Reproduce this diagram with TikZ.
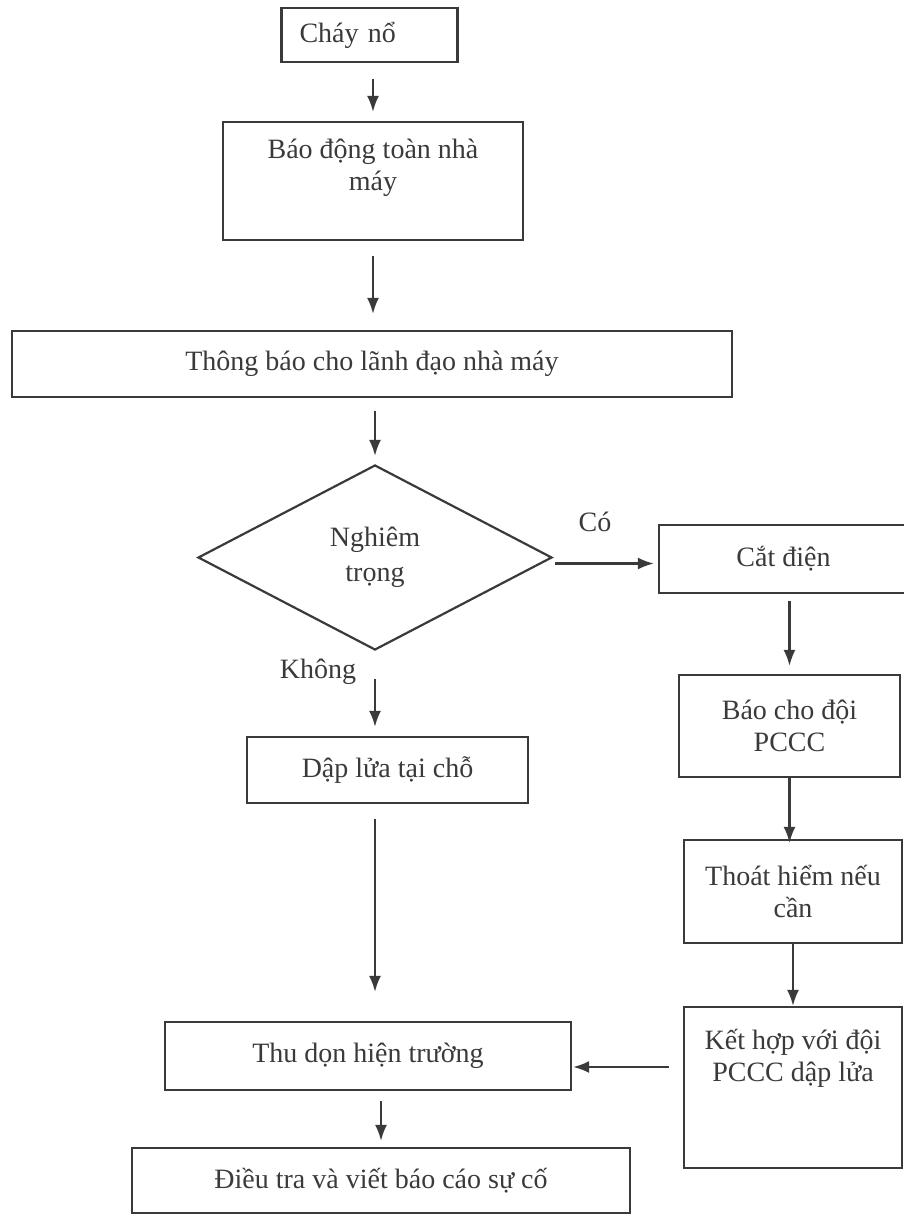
\documentclass[tikz,border=0pt]{standalone}
\usepackage{fontspec}
\setmainfont{Liberation Serif}
\usepackage{tikz}
\usetikzlibrary{arrows.meta,positioning,shapes.geometric}
\definecolor{ink}{HTML}{3A3A3A}

\begin{document}
\begin{tikzpicture}[x=1pt,y=-1pt,
  box/.style={rectangle, draw=ink, line width=2.2pt, inner sep=0pt, align=center, text=ink, font=\fontsize{28}{32}\selectfont},
  decision/.style={diamond, draw=ink, line width=2.2pt, inner sep=0pt, aspect=1.9, align=center, text=ink, font=\fontsize{28}{35}\selectfont},
  comment/.style={rectangle, text centered, text=ink, font=\fontsize{28}{32}\selectfont},
  flow/.style={draw=ink, line width=2.2pt, -{Latex[length=16pt,width=12pt]}}]
\useasboundingbox (0,0) rectangle (904,1216);

\node [box, minimum height=54pt, text width=140pt, inner xsep=18pt, align=left] (chay) at (369.5,35) {Cháy nổ};
\node [box, minimum width=300pt, minimum height=118pt] (baodong) at (373,181) {Báo động toàn nhà\\máy\\\mbox{}};
\node [box, minimum width=720pt, minimum height=66pt] (thongbao) at (372,364) {Thông báo cho lãnh đạo nhà máy};
\node [decision, minimum width=354pt, minimum height=185pt] (nghiem) at (375,557.5) {Nghiêm\\trọng};
\node [box, minimum width=249pt, minimum height=68pt] (catdien) at (783.5,559) {Cắt điện};
\node [box, minimum width=221pt, minimum height=102pt] (baocho) at (789.5,726) {Báo cho đội\\PCCC};
\node [box, minimum width=218pt, minimum height=103pt] (thoat) at (793,891.5) {Thoát hiểm nếu\\cần};
\node [box, minimum width=218pt, minimum height=161pt] (kethop) at (793,1087.5) {Kết hợp với đội\\PCCC dập lửa\\\mbox{}\\\mbox{}};
\node [box, minimum width=281pt, minimum height=66pt] (daplua) at (387.5,770) {Dập lửa tại chỗ};
\node [box, minimum width=406pt, minimum height=68pt] (thudon) at (368,1056) {Thu dọn hiện trường};
\node [box, minimum width=498pt, minimum height=65pt] (dieutra) at (381,1180.5) {Điều tra và viết báo cáo sự cố};

\node [comment] (co) at (595,522) {Có};
\node [comment] (khong) at (318,672) {Không};

\draw [flow, shorten <=16pt, shorten >=9pt] (chay.south -| baodong.north) -- (baodong.north);
\draw [flow, shorten <=15pt, shorten >=16pt] (baodong.south) -- (baodong.south |- thongbao.north);
\draw [flow, shorten <=13pt, shorten >=8pt] (thongbao.south -| nghiem.north) -- (nghiem.north);
\draw [flow, shorten <=2pt, shorten >=4pt] ([yshift=-6pt]nghiem.east) -- ([yshift=-6pt]nghiem.east -| catdien.west);
\draw [flow, shorten <=28pt, shorten >=9pt] (nghiem.south) -- (nghiem.south |- daplua.north);
\draw [flow, shorten <=7pt, shorten >=8pt] (catdien.south -| baocho.north) -- (baocho.north);
\draw [flow, shorten >=-4pt] (baocho.south) -- (baocho.south |- thoat.north);
\draw [flow] (thoat.south) -- (kethop.north);
\draw [flow, shorten <=15pt, shorten >=29pt] (daplua.south -| nghiem.south) -- (thudon.north -| nghiem.south);
\draw [flow, shorten <=14pt, shorten >=1pt] ([yshift=-11pt]thudon.east -| kethop.west) -- ([yshift=-11pt]thudon.east);
\draw [flow, shorten <=10pt, shorten >=6pt] (thudon.south -| dieutra.north) -- (dieutra.north);

\end{tikzpicture}
\end{document}
